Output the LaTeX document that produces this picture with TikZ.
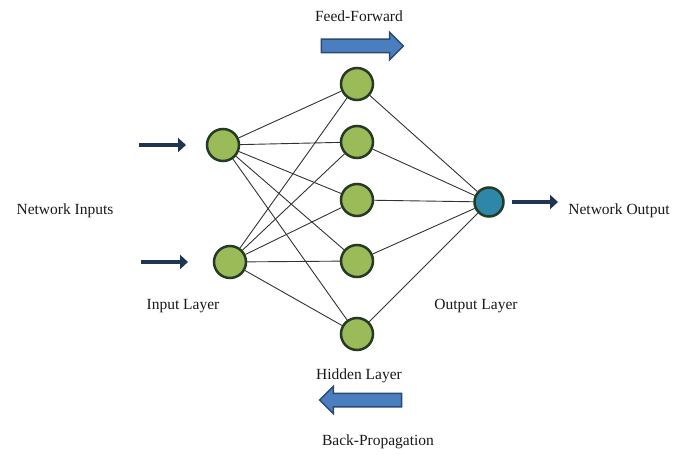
\documentclass[tikz,border=0pt]{standalone}
\usepackage{fontspec}
\setmainfont{Liberation Serif}
\usetikzlibrary{arrows.meta,shapes.arrows,positioning}

\definecolor{nodegreen}{HTML}{9BBB59}
\definecolor{nodeline}{HTML}{243B26}
\definecolor{outblue}{HTML}{2E86A8}
\definecolor{navy}{HTML}{1F3552}
\definecolor{bigblue}{HTML}{4A7EBF}
\definecolor{bigline}{HTML}{2B4A70}
\definecolor{wirecol}{HTML}{333333}

\begin{document}
\begin{tikzpicture}[x=1pt,y=-1pt,
  neuron/.style={circle,draw=nodeline,line width=2.5pt,fill=nodegreen,minimum size=32pt,inner sep=0pt},
  outneuron/.style={neuron,fill=outblue,minimum size=29pt},
  lbl/.style={font=\fontsize{15.5}{18}\selectfont,text=black!90},
  wire/.style={draw=wirecol,line width=0.9pt},
  feed/.style={navy,line width=4.5pt,-{Triangle[length=8pt,width=14pt]}},
  bigarrow/.style={single arrow,draw=bigline,line width=1.5pt,fill=bigblue,
    minimum height=82pt,inner xsep=0pt,inner ysep=6pt,text height=0pt,text depth=0pt,
    single arrow head extend=7pt}]
  \useasboundingbox (0,0) rectangle (686,460);

  % neurons
  \node[neuron] (i1) at (223,145) {};
  \node[neuron] (i2) at (230,262) {};
  \node[neuron] (h1) at (357,84)  {};
  \node[neuron] (h2) at (357,142) {};
  \node[neuron] (h3) at (357,200) {};
  \node[neuron] (h4) at (357,261) {};
  \node[neuron] (h5) at (357,334) {};
  \node[outneuron] (o) at (489,202) {};

  % connections
  \foreach \i in {1,2}
    \foreach \h in {1,...,5}
      \draw[wire] (i\i) -- (h\h);
  \foreach \h in {1,...,5}
    \draw[wire] (h\h) -- (o);

  % inputs and output
  \coordinate (a1) at (139,145);
  \coordinate (b1) at (186,145);
  \coordinate (a2) at (141,262);
  \coordinate (b2) at (188,262);
  \coordinate (a3) at (512,202);
  \coordinate (b3) at (558,202);
  \draw[feed] (a1) -- (b1);
  \draw[feed] (a2) -- (b2);
  \draw[feed] (a3) -- (b3);

  % big arrows
  \node[bigarrow] (ff) at (359,46) {};
  \node[bigarrow,shape border rotate=180] (bp) at (364,400) {};

  % labels
  \node[lbl] (ffl)  at (359,16)  {Feed-Forward};
  \node[lbl] (nin)  at (65,211)  {Network Inputs};
  \node[lbl] (nout) at (619,211) {Network Output};
  \node[lbl] (inl)  at (183,306) {Input Layer};
  \node[lbl] (outl) at (476,306) {Output Layer};
  \node[lbl] (hidl) at (359,376) {Hidden Layer};
  \node[lbl] (bpl)  at (378,442) {Back-Propagation};
\end{tikzpicture}
\end{document}
